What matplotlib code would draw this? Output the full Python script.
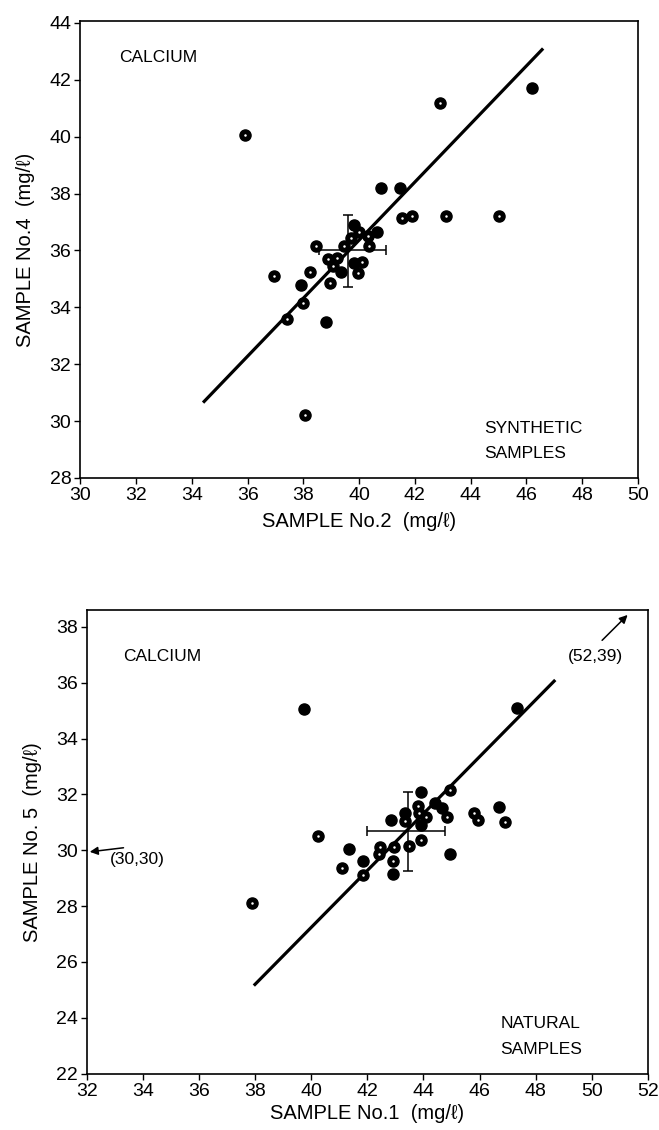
import matplotlib.pyplot as plt

plt.rcParams['font.family'] = ['Liberation Sans', 'DejaVu Sans']

# ---- top panel: synthetic samples (No.2 vs No.4) ----
syn_x = [35.9, 42.9, 46.2, 40.8, 41.45, 41.55, 41.9, 43.1, 45.0, 40.65,
         39.8, 40.0, 40.3, 40.35, 39.7, 39.45, 38.45, 39.8, 40.1, 38.9,
         39.2, 39.05, 39.35, 39.95, 38.25, 36.95, 37.9, 38.95, 38.0, 37.4,
         38.8, 38.05]
syn_y = [40.05, 41.2, 41.7, 38.2, 38.2, 37.15, 37.2, 37.2, 37.2, 36.65,
         36.9, 36.65, 36.5, 36.15, 36.45, 36.15, 36.15, 35.55, 35.6, 35.7,
         35.75, 35.45, 35.25, 35.2, 35.25, 35.1, 34.8, 34.85, 34.15, 33.6,
         33.5, 30.2]
syn_ring = [1, 1, 0, 0, 0, 1, 1, 1, 1, 0,
            0, 1, 1, 1, 1, 1, 1, 0, 1, 1,
            1, 1, 0, 1, 1, 1, 0, 1, 1, 1,
            0, 1]
syn_mean = (39.6, 36.0)
syn_xrange = (38.55, 40.95)
syn_yrange = (34.7, 37.25)
syn_line_x = [34.4, 46.6]
syn_line_y = [30.65, 43.1]

# ---- bottom panel: natural samples (No.1 vs No.5) ----
nat_x = [39.75, 47.35, 37.9, 40.25, 41.35, 41.1, 41.85, 41.85, 42.45, 42.4,
         42.85, 42.9, 42.9, 42.95, 43.35, 43.35, 43.5, 43.9, 43.8, 43.85,
         43.9, 43.9, 44.1, 44.4, 44.65, 44.85, 44.95, 44.95, 45.8, 45.95,
         46.7, 46.9]
nat_y = [35.05, 35.1, 28.1, 30.5, 30.05, 29.35, 29.6, 29.1, 30.1, 29.85,
         31.1, 29.6, 29.15, 30.1, 31.35, 31.05, 30.15, 32.1, 31.6, 31.35,
         30.9, 30.35, 31.2, 31.7, 31.5, 31.2, 32.15, 29.85, 31.35, 31.1,
         31.55, 31.0]
nat_ring = [0, 0, 1, 1, 0, 1, 0, 1, 1, 1,
            0, 1, 0, 1, 0, 1, 1, 0, 1, 1,
            0, 1, 1, 0, 0, 1, 1, 0, 1, 1,
            0, 1]
nat_mean = (43.45, 30.7)
nat_xrange = (42.0, 44.75)
nat_yrange = (29.25, 32.1)
nat_line_x = [37.95, 48.7]
nat_line_y = [25.15, 36.1]


def draw_panel(ax, xs, ys, ring, mean, xr, yr, lx, ly):
    ax.plot(lx, ly, color='black', lw=2.3, solid_capstyle='butt', zorder=2)
    ax.plot(xs, ys, 'o', color='black', ms=8, zorder=3)
    rx = [x for x, r in zip(xs, ring) if r]
    ry = [y for y, r in zip(ys, ring) if r]
    ax.plot(rx, ry, 'o', color='white', ms=1.8, mec='none', zorder=4)
    ax.errorbar([mean[0]], [mean[1]],
                xerr=[[mean[0] - xr[0]], [xr[1] - mean[0]]],
                yerr=[[mean[1] - yr[0]], [yr[1] - mean[1]]],
                fmt='none', ecolor='black', elinewidth=1.1, capsize=3.5,
                capthick=1.1, zorder=5)
    for side in ['left', 'bottom', 'right', 'top']:
        ax.spines[side].set_linewidth(1.2)
    ax.tick_params(direction='out', length=4.5, width=1, labelsize=14,
                   top=False, right=False, pad=2)


fig = plt.figure(figsize=(6.59, 11.3), dpi=100)

ax1 = fig.add_axes([0.122, 0.577, 0.846, 0.404])
draw_panel(ax1, syn_x, syn_y, syn_ring, syn_mean, syn_xrange, syn_yrange,
           syn_line_x, syn_line_y)
ax1.set_xlim(30, 50)
ax1.set_ylim(28, 44.05)
ax1.set_xticks(range(30, 51, 2))
ax1.set_yticks(range(28, 45, 2))
ax1.text(31.4, 42.8, 'CALCIUM', fontsize=12.5, va='center')
ax1.text(44.5, 29.75, 'SYNTHETIC', fontsize=12.5, va='center')
ax1.text(44.5, 28.85, 'SAMPLES', fontsize=12.5, va='center')
ax1.set_xlabel('SAMPLE No.2  (mg/\u2113)', fontsize=14.5, labelpad=6)
ax1.set_ylabel('SAMPLE No.4  (mg/\u2113)', fontsize=14.5, labelpad=10)

ax2 = fig.add_axes([0.132, 0.050, 0.851, 0.410])
draw_panel(ax2, nat_x, nat_y, nat_ring, nat_mean, nat_xrange, nat_yrange,
           nat_line_x, nat_line_y)
ax2.set_xlim(32, 52)
ax2.set_ylim(22, 38.6)
ax2.set_xticks(range(32, 53, 2))
ax2.set_yticks(range(22, 39, 2))
ax2.text(33.3, 36.95, 'CALCIUM', fontsize=12.5, va='center')
ax2.text(46.75, 23.8, 'NATURAL', fontsize=12.5, va='center')
ax2.text(46.75, 22.85, 'SAMPLES', fontsize=12.5, va='center')
ax2.annotate('', xy=(51.35, 38.5), xytext=(50.3, 37.45),
             arrowprops=dict(arrowstyle='-|>', color='black', lw=1.1,
                             mutation_scale=12))
ax2.text(50.15, 36.95, '(52,39)', fontsize=12.5, ha='center', va='center')
ax2.annotate('', xy=(32.0, 29.93), xytext=(33.4, 30.1),
             arrowprops=dict(arrowstyle='-|>', color='black', lw=1.1,
                             mutation_scale=12))
ax2.text(32.8, 29.65, '(30,30)', fontsize=12.5, va='center')
ax2.set_xlabel('SAMPLE No.1  (mg/\u2113)', fontsize=14.5, labelpad=3)
ax2.set_ylabel('SAMPLE No. 5  (mg/\u2113)', fontsize=14.5, labelpad=10)

fig.savefig('out.png', dpi=100)
